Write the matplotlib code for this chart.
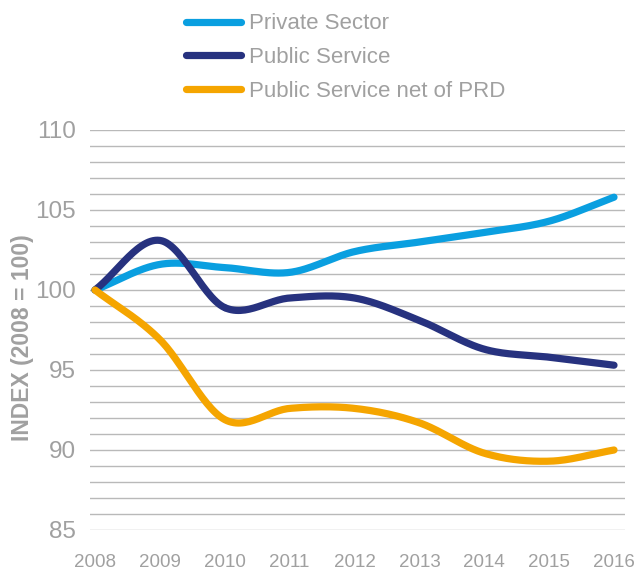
import matplotlib
matplotlib.use("Agg")
import matplotlib.pyplot as plt
import numpy as np

plt.rcParams["font.family"] = ["Liberation Sans", "DejaVu Sans"]

years = [2008, 2009, 2010, 2011, 2012, 2013, 2014, 2015, 2016]
private_sector = [100.0, 101.6, 101.4, 101.1, 102.4, 103.0, 103.6, 104.3, 105.8]
public_service = [100.0, 103.1, 98.9, 99.5, 99.5, 98.1, 96.3, 95.8, 95.3]
public_net_prd = [100.0, 96.9, 91.9, 92.6, 92.6, 91.7, 89.8, 89.3, 90.0]

series_labels = ["Private Sector", "Public Service", "Public Service net of PRD"]
series_colors = ["#0a9fe0", "#27327f", "#f5a500"]
grey = "#a0a0a0"


def smooth(x, y, steps=30):
    # catmull-rom curve through the points, like a spreadsheet "smoothed line"
    x = np.asarray(x, dtype=float)
    y = np.asarray(y, dtype=float)
    px = np.concatenate([[2 * x[0] - x[1]], x, [2 * x[-1] - x[-2]]])
    py = np.concatenate([[2 * y[0] - y[1]], y, [2 * y[-1] - y[-2]]])
    t = np.linspace(0, 1, steps)
    xs, ys = [], []
    for i in range(1, len(px) - 2):
        for p, out in ((px, xs), (py, ys)):
            p0, p1, p2, p3 = p[i - 1], p[i], p[i + 1], p[i + 2]
            out.append(0.5 * (2 * p1 + (-p0 + p2) * t
                              + (2 * p0 - 5 * p1 + 4 * p2 - p3) * t ** 2
                              + (-p0 + 3 * p1 - 3 * p2 + p3) * t ** 3))
    return np.concatenate(xs), np.concatenate(ys)


fig = plt.figure(figsize=(6.37, 5.70), dpi=100)
ax = fig.add_axes([90 / 637, 1 - 530 / 570, 535 / 637, 400 / 570])

handles = []
for vals, label, color in zip([private_sector, public_service, public_net_prd],
                              series_labels, series_colors):
    sx, sy = smooth(years, vals)
    h, = ax.plot(sx, sy, color=color, lw=5.2, solid_capstyle="round",
                 label=label, clip_on=False, zorder=3)
    handles.append(h)

ax.set_xlim(2008 - 5 / 64.9, 2016 + 11 / 64.9)
ax.set_ylim(85, 110)
ax.set_yticks(range(85, 111, 5))
ax.set_yticks(range(85, 111), minor=True)
ax.grid(True, which="both", axis="y", color="#b9b9b9", lw=1.0)
ax.set_axisbelow(True)
ax.set_xticks(years)
ax.set_xticklabels([str(y) for y in years])
ax.tick_params(axis="x", length=0, pad=17, labelsize=13.5, labelcolor=grey)
ax.tick_params(axis="y", which="both", length=0, pad=10, labelsize=17.5, labelcolor=grey)
for s in ax.spines.values():
    s.set_visible(False)

ax.set_ylabel("INDEX (2008 = 100)", fontsize=16.5, fontweight="bold", color=grey)
ax.yaxis.set_label_coords(-56 / 535, 0.48)

fig.legend(handles=handles, loc="upper left", bbox_to_anchor=(173 / 637, 1.0),
           frameon=False, fontsize=16, labelcolor=grey, handlelength=2.45,
           handletextpad=0.38, labelspacing=0.58, borderaxespad=0.2)

fig.savefig("out.png", dpi=100)
